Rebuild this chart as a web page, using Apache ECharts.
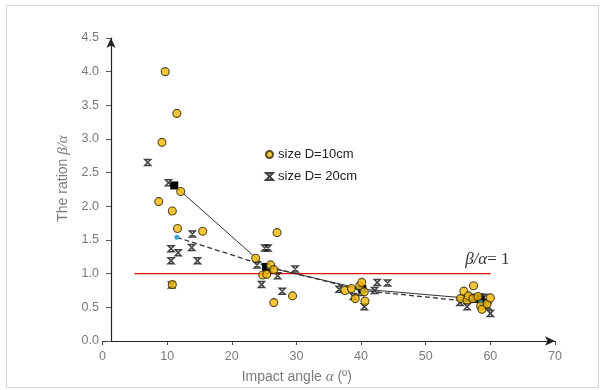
<!DOCTYPE html>
<html>
<head>
<meta charset="utf-8">
<script src="https://cdn.jsdelivr.net/npm/echarts@6/dist/echarts.min.js"></script>
<style>
  html, body { margin: 0; padding: 0; background: #fff; }
  #chart { width: 605px; height: 390px; }
</style>
</head>
<body>
<div id="chart"></div>
<script>
// Ratio beta/alpha against impact angle alpha, two block sizes
const sizeD10 = [
  [9.7, 4.0], [11.5, 3.38], [9.2, 2.95], [12.1, 2.22], [8.7, 2.07], [10.8, 1.93],
  [11.6, 1.67], [15.5, 1.63], [10.8, 0.84],
  [27.0, 1.61], [23.7, 1.23], [26.0, 1.13], [24.8, 0.98], [25.4, 0.99], [26.5, 1.06],
  [26.5, 0.57], [29.4, 0.67],
  [37.5, 0.75], [38.5, 0.78], [39.1, 0.63], [39.8, 0.82], [40.1, 0.87], [40.5, 0.73], [40.6, 0.59],
  [55.4, 0.63], [55.9, 0.74], [56.4, 0.61], [56.6, 0.67], [57.3, 0.63], [57.4, 0.82],
  [58.1, 0.66], [58.5, 0.52], [58.7, 0.47], [59.5, 0.55], [60.0, 0.64]
];
const sizeD20 = [
  [7.0, 2.65], [10.2, 2.35], [13.9, 1.59], [13.8, 1.39], [10.6, 1.37], [11.7, 1.31],
  [10.6, 1.19], [14.7, 1.19], [10.7, 0.83],
  [25.1, 1.38], [25.6, 1.38], [23.9, 1.13], [27.1, 0.97], [24.6, 0.84], [27.8, 0.74],
  [29.8, 1.07], [26.0, 1.05],
  [36.6, 0.77], [38.8, 0.66], [40.5, 0.51], [42.1, 0.75], [42.5, 0.87], [44.1, 0.86], [39.9, 0.72],
  [55.3, 0.57], [56.4, 0.51], [57.1, 0.65], [57.6, 0.62], [58.3, 0.65], [59.0, 0.65],
  [59.0, 0.54], [59.6, 0.52], [60.0, 0.41]
];
// Mean trend lines
const meanD10 = [[11.1, 2.31], [25.3, 1.10], [40.2, 0.77], [58.5, 0.62]];
const meanD20 = [[11.5, 1.54], [25.8, 1.10], [40.2, 0.75], [58.5, 0.57]];
// Reference level beta/alpha = 1
const unityLine = [[5, 1], [60, 1]];

const xAxisRange = { min: 0, max: 70, interval: 10 };
const yAxisRange = { min: 0, max: 4.5, interval: 0.5 };

const crossSymbol = 'path://M0,0 L10,0 L0,10 L10,10 Z';
const gray = '#7a7a7a';
const sans = 'Liberation Sans, Arial, sans-serif';
const serif = 'Liberation Serif, serif';

const chart = echarts.init(document.getElementById('chart'), null, { renderer: 'canvas' });

chart.setOption({
  backgroundColor: '#fff',
  animation: false,
  graphic: [{
    type: 'rect',
    shape: { x: 6.5, y: 5.5, width: 592, height: 382 },
    style: { fill: 'none', stroke: '#d6d6d6', lineWidth: 1 },
    silent: true
  }],
  grid: { left: 102.5, right: 50, top: 38, bottom: 46 },
  legend: {
    data: ['size D=10cm', 'size D= 20cm'],
    orient: 'vertical',
    left: 260,
    top: 143,
    itemWidth: 7,
    itemHeight: 7,
    itemGap: 9,
    textStyle: { fontFamily: sans, fontSize: 13, color: '#222' }
  },
  xAxis: {
    type: 'value',
    min: xAxisRange.min, max: xAxisRange.max, interval: xAxisRange.interval,
    name: 'Impact angle {i|α} (º)',
    nameLocation: 'middle',
    nameGap: 29,
    nameTextStyle: {
      fontFamily: sans, fontSize: 14, color: gray,
      padding: [0, 64, 0, 0],
      rich: { i: { fontFamily: serif, fontStyle: 'italic', fontSize: 15, color: gray } }
    },
    axisLine: { onZero: false, lineStyle: { color: '#222', width: 1.2 }, symbol: ['none', 'arrow'], symbolSize: [7, 10] },
    axisTick: { show: true, length: 4, lineStyle: { color: '#444' } },
    axisLabel: { margin: 9, color: gray, fontFamily: sans, fontSize: 12.5 },
    splitLine: { show: false }
  },
  yAxis: {
    type: 'value',
    min: yAxisRange.min, max: yAxisRange.max, interval: yAxisRange.interval,
    offset: -8.5,
    name: 'The ration {i|β/α}',
    nameLocation: 'middle',
    nameRotate: 90,
    nameGap: 39,
    nameTextStyle: {
      fontFamily: sans, fontSize: 14, color: gray,
      padding: [0, 0, 0, 22],
      rich: { i: { fontFamily: serif, fontStyle: 'italic', fontSize: 15, color: gray } }
    },
    axisLine: { show: true, onZero: false, lineStyle: { color: '#222', width: 1.2 }, symbol: ['none', 'arrow'], symbolSize: [7, 10] },
    axisTick: { show: true, length: 5, lineStyle: { color: '#555' } },
    axisLabel: {
      margin: 12, color: gray, fontFamily: sans, fontSize: 12.5,
      formatter: v => v.toFixed(1)
    },
    splitLine: { show: false }
  },
  series: [
    {
      name: 'size D= 20cm',
      type: 'scatter',
      data: sizeD20,
      symbol: crossSymbol,
      symbolSize: 6,
      itemStyle: { color: 'rgba(0,0,0,0)', borderColor: '#111', borderWidth: 1.5 },
      z: 2
    },
    {
      name: 'meanD10',
      type: 'line',
      data: meanD10,
      symbol: 'rect',
      symbolSize: 8,
      itemStyle: { color: '#000' },
      lineStyle: { color: '#333', width: 1 },
      z: 3
    },
    {
      name: 'meanD20',
      type: 'line',
      data: meanD20,
      symbol: 'circle',
      symbolSize: 5,
      itemStyle: { color: '#3aa6c9' },
      lineStyle: { color: '#333', width: 1.3, type: [5, 3] },
      z: 3
    },
    {
      name: 'unity',
      type: 'line',
      data: unityLine,
      symbol: 'circle',
      symbolSize: 1,
      showSymbol: true,
      itemStyle: { color: '#e8100f' },
      lineStyle: { color: '#e8100f', width: 1.3 },
      label: {
        show: true,
        position: 'top',
        distance: 5,
        offset: [-3, 0],
        formatter: p => p.dataIndex === 1 ? '{i|β/α}= 1' : '',
        fontFamily: serif,
        fontSize: 17,
        color: '#333',
        rich: { i: { fontFamily: serif, fontStyle: 'italic', fontSize: 17, color: '#333' } }
      },
      z: 2
    },
    {
      name: 'size D=10cm',
      type: 'scatter',
      data: sizeD10,
      symbol: 'circle',
      symbolSize: 8,
      itemStyle: { color: '#f2b807', borderColor: '#2b2300', borderWidth: 1.1 },
      z: 4
    }
  ]
});
</script>
</body>
</html>
